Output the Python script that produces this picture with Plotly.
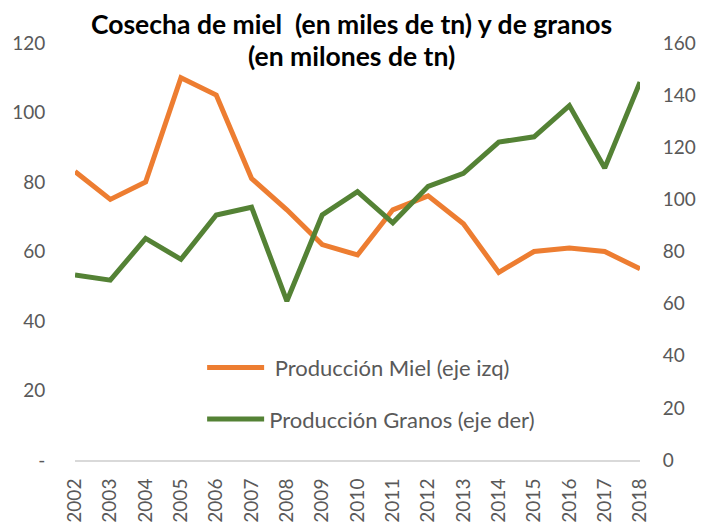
import plotly.graph_objects as go

years = [str(y) for y in range(2002, 2019)]
miel = [83, 75, 80, 110, 105, 81, 72, 62, 59, 72, 76, 68, 54, 60, 61, 60, 55]
granos = [71, 69, 85, 77, 94, 97, 61, 94, 103, 91, 105, 110, 122, 124, 136, 112, 145]
left_ticks = [0, 20, 40, 60, 80, 100, 120]
left_ticktext = ["-", "20", "40", "60", "80", "100", "120"]
right_ticks = [0, 20, 40, 60, 80, 100, 120, 140, 160]
title_lines = ["Cosecha de miel  (en miles de tn) y de granos", "(en milones de tn)"]

FONT = "Lato"
GREY = "#595959"

fig = go.Figure()
fig.add_trace(go.Scatter(x=years, y=miel, mode="lines", name=" Producción Miel (eje izq)",
                         line=dict(color="#ED7D31", width=5), legendgroup="a"))
fig.add_trace(go.Scatter(x=years, y=granos, mode="lines", name="Producción Granos (eje der)",
                         line=dict(color="#548235", width=5), yaxis="y2", legendgroup="b"))

fig.update_layout(
    width=702, height=524,
    margin=dict(l=75, r=62, t=43, b=64, autoexpand=False),
    paper_bgcolor="white", plot_bgcolor="white",
    font=dict(family=FONT, color=GREY, size=19),
    xaxis=dict(type="category", showgrid=False, showline=True, linecolor="#D9D9D9", linewidth=2,
               tickangle=-90, ticks="outside", ticklen=9, tickcolor="rgba(0,0,0,0)",
               tickfont=dict(size=19, color=GREY), zeroline=False, automargin=False),
    yaxis=dict(range=[0, 120], tickvals=left_ticks, ticktext=left_ticktext, showgrid=False,
               showline=False, zeroline=False, ticks="outside", ticklen=25, tickcolor="rgba(0,0,0,0)",
               tickfont=dict(size=19, color=GREY), automargin=False),
    yaxis2=dict(range=[0, 160], tickvals=right_ticks, overlaying="y", side="right", showgrid=False,
                showline=False, zeroline=False, ticks="outside", ticklen=18, tickcolor="rgba(0,0,0,0)",
                tickfont=dict(size=19, color=GREY), automargin=False),
    legend=dict(x=0.225, y=0.272, xanchor="left", yanchor="top", bgcolor="rgba(0,0,0,0)",
                traceorder="grouped", tracegroupgap=20, itemwidth=57,
                font=dict(size=22, color=GREY)),
    showlegend=True,
)

for line, ycenter in zip(title_lines, [24, 56]):
    fig.add_annotation(text="<b>" + line + "</b>", xref="paper", yref="paper",
                       x=0.49, y=1, xanchor="center", yanchor="middle",
                       yshift=43 - ycenter, showarrow=False,
                       font=dict(family=FONT, size=26.5, color="black"))

fig.write_html("out.html", config={"displayModeBar": False},
               post_script="document.body.style.margin='0';")
